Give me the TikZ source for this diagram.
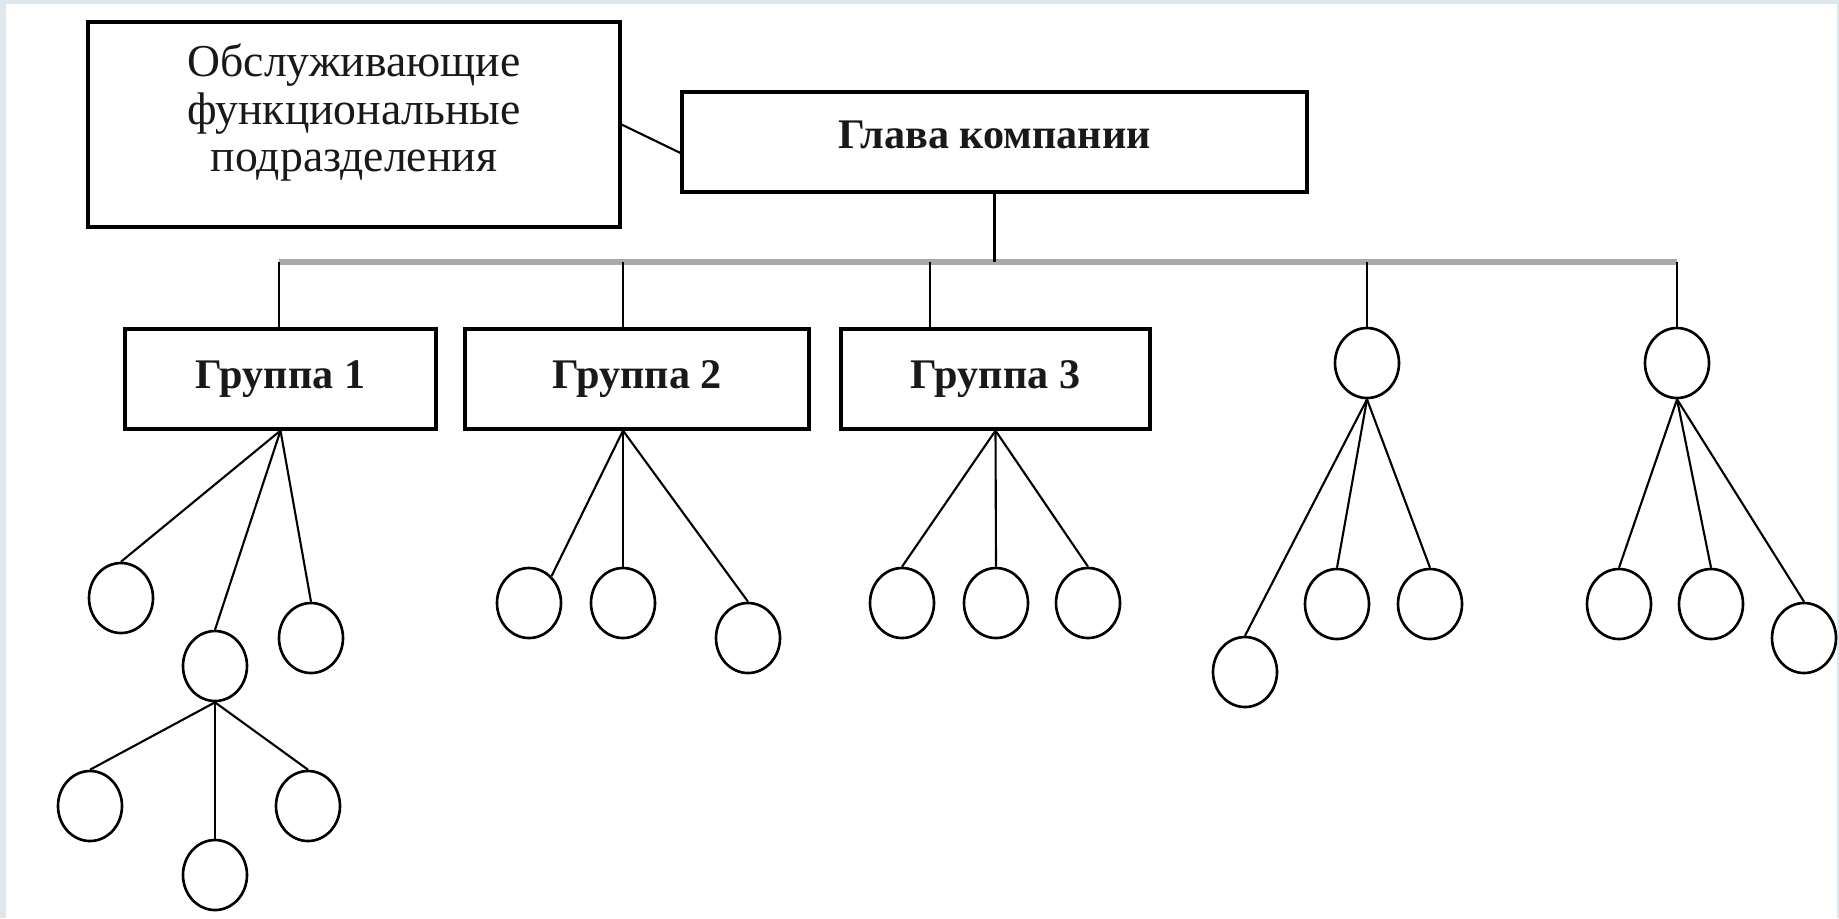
\documentclass[tikz,border=0pt]{standalone}
\usepackage{fontspec}
\setmainfont{Liberation Serif}
\usetikzlibrary{shapes.geometric}

\newlength{\du}
\setlength{\du}{0.1cm}

\definecolor{framecolor}{rgb}{0.870000, 0.905000, 0.935000}
\definecolor{buscolor}{rgb}{0.660000, 0.660000, 0.660000}

\tikzset{
  unitbox/.style={draw=black, line width=0.9pt, fill=white, inner sep=0pt, align=center, text=black!90},
  unitcircle/.style={ellipse, draw=black, line width=0.75pt, fill=white, minimum width=6.4\du, minimum height=7.0\du, inner sep=0pt},
  link/.style={draw=black, line width=0.6pt},
  busline/.style={draw=buscolor, line width=1.7pt},
}

\begin{document}
\begin{tikzpicture}
\pgftransformxscale{1.000000}
\pgftransformyscale{-1.000000}
% page
\fill[framecolor] (0\du,0\du) rectangle (183.9\du,91.8\du);
\fill[white] (0.6\du,0.4\du) rectangle (183.7\du,91.8\du);
\useasboundingbox (0\du,0\du) rectangle (183.9\du,91.8\du);
% boxes
\node[unitbox, minimum width=53.2\du, minimum height=20.5\du, text depth=3.3\du, font=\fontsize{13pt}{13.5pt}\selectfont] (serv) at (35.40\du,12.45\du) {Обслуживающие\\функциональные\\подразделения};
\node[unitbox, minimum width=62.5\du, minimum height=10.0\du, text depth=1.4\du, font=\bfseries\fontsize{12pt}{14pt}\selectfont] (head) at (99.45\du,14.20\du) {Глава компании};
\node[unitbox, minimum width=31.1\du, minimum height=10.0\du, font=\bfseries\fontsize{12pt}{14pt}\selectfont] (g1) at (28.05\du,37.90\du) {Группа 1};
\node[unitbox, minimum width=34.4\du, minimum height=10.0\du, font=\bfseries\fontsize{12pt}{14pt}\selectfont] (g2) at (63.70\du,37.90\du) {Группа 2};
\node[unitbox, minimum width=30.9\du, minimum height=10.0\du, font=\bfseries\fontsize{12pt}{14pt}\selectfont] (g3) at (99.55\du,37.90\du) {Группа 3};
% bus
\coordinate (d1) at (27.90\du,26.20\du);
\coordinate (d2) at (62.30\du,26.20\du);
\coordinate (d3) at (93.00\du,26.20\du);
\coordinate (d4) at (136.70\du,26.20\du);
\coordinate (d5) at (167.70\du,26.20\du);
\draw[busline] (d1)--(d5);
\draw[link] (serv.east)--(head.182.4);
\draw[link] (head.south)--(head.south |- d1);
% circles
\node[unitcircle] (ua) at (136.70\du,36.30\du) {};
\node[unitcircle] (ub) at (167.70\du,36.30\du) {};
\node[unitcircle] (g1a) at (12.10\du,59.80\du) {};
\node[unitcircle] (g1b) at (21.50\du,66.60\du) {};
\node[unitcircle] (g1c) at (31.10\du,63.80\du) {};
\node[unitcircle] (g1ba) at (9.00\du,80.60\du) {};
\node[unitcircle] (g1bb) at (21.50\du,87.50\du) {};
\node[unitcircle] (g1bc) at (30.80\du,80.60\du) {};
\node[unitcircle] (g2a) at (52.90\du,60.30\du) {};
\node[unitcircle] (g2b) at (62.30\du,60.30\du) {};
\node[unitcircle] (g2c) at (74.80\du,63.80\du) {};
\node[unitcircle] (g3a) at (90.20\du,60.30\du) {};
\node[unitcircle] (g3b) at (99.60\du,60.30\du) {};
\node[unitcircle] (g3c) at (108.80\du,60.30\du) {};
\node[unitcircle] (uaa) at (124.50\du,67.20\du) {};
\node[unitcircle] (uab) at (133.70\du,60.40\du) {};
\node[unitcircle] (uac) at (143.00\du,60.40\du) {};
\node[unitcircle] (uba) at (161.90\du,60.40\du) {};
\node[unitcircle] (ubb) at (171.10\du,60.40\du) {};
\node[unitcircle] (ubc) at (180.40\du,63.80\du) {};
% drops
\draw[link] (d1)--(d1 |- g1.north);
\draw[link] (d2)--(d2 |- g2.north);
\draw[link] (d3)--(d3 |- g3.north);
\draw[link] (d4)--(ua.north);
\draw[link] (d5)--(ub.north);
% Группа 1
\draw[link] (g1.south)--(g1a.north);
\draw[link] (g1.south)--(g1b.north);
\draw[link] (g1.south)--(g1c.north);
\draw[link] (g1b.south)--(g1ba.north);
\draw[link] (g1b.south)--(g1bb.north);
\draw[link] (g1b.south)--(g1bc.north);
% Группа 2
\coordinate (h2) at (d2 |- g2.south);
\draw[link] (h2)--(g2a.50);
\draw[link] (h2)--(g2b.north);
\draw[link] (h2)--(g2c.north);
% Группа 3
\draw[link] (g3.south)--(g3a.north);
\draw[link] (g3.south)--(g3b.north);
\draw[link] (g3.south)--(g3c.north);
% right units
\draw[link] (ua.south)--(uaa.north);
\draw[link] (ua.south)--(uab.north);
\draw[link] (ua.south)--(uac.north);
\draw[link] (ub.south)--(uba.north);
\draw[link] (ub.south)--(ubb.north);
\draw[link] (ub.south)--(ubc.north);
\end{tikzpicture}
\end{document}
